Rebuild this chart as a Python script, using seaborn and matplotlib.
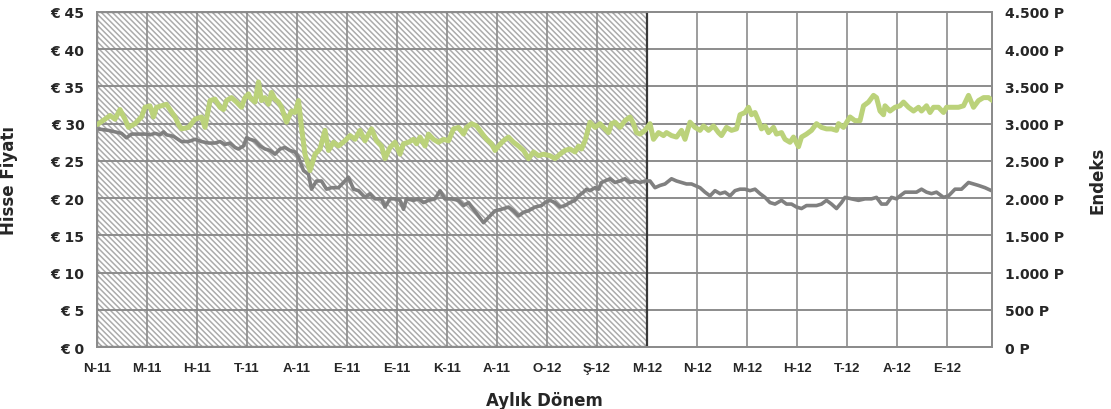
import numpy as np
import pandas as pd
import matplotlib
matplotlib.use("Agg")
import matplotlib.pyplot as plt
import seaborn as sns

# Month labels (one per tick)
months = ["N-11", "M-11", "H-11", "T-11", "A-11", "E-11", "E-11", "K-11", "A-11",
          "O-12", "Ş-12", "M-12", "N-12", "M-12", "H-12", "T-12", "A-12", "E-12"]

# Hatched (past) period ends at this month index
hatch_end = 11

# Stock price (EUR) -- position in months since N-11
price_t = [0.01, 0.23, 0.36, 0.49, 0.59, 0.69, 0.83, 0.96, 1.06, 1.16, 1.26, 1.33, 1.39, 1.53,
           1.69, 1.83, 1.96, 2.09, 2.23, 2.36, 2.46, 2.56, 2.66, 2.76, 2.83, 2.93, 2.99, 3.06,
           3.16, 3.26, 3.36, 3.46, 3.56, 3.66, 3.76, 3.86, 3.96, 4.03, 4.13, 4.23, 4.29, 4.39,
           4.49, 4.59, 4.69, 4.83, 4.96, 5.03, 5.13, 5.23, 5.36, 5.46, 5.56, 5.69, 5.76, 5.86,
           5.96, 6.06, 6.13, 6.19, 6.33, 6.43, 6.53, 6.63, 6.76, 6.86, 6.96, 7.09, 7.23, 7.33,
           7.43, 7.53, 7.63, 7.73, 7.83, 7.96, 8.09, 8.23, 8.33, 8.43, 8.53, 8.63, 8.76, 8.89,
           8.96, 9.06, 9.16, 9.26, 9.36, 9.46, 9.56, 9.63, 9.73, 9.79, 9.86, 9.96, 10.03, 10.09,
           10.16, 10.26, 10.36, 10.46, 10.56, 10.66, 10.76, 10.86, 10.96, 11.06, 11.16, 11.26,
           11.36, 11.49, 11.59, 11.69, 11.79, 11.89, 12.06, 12.16, 12.26, 12.36, 12.46, 12.56,
           12.66, 12.76, 12.86, 12.96, 13.06, 13.16, 13.26, 13.36, 13.46, 13.56, 13.69, 13.79,
           13.89, 13.99, 14.09, 14.19, 14.29, 14.39, 14.49, 14.59, 14.69, 14.79, 14.89, 14.96,
           15.09, 15.23, 15.36, 15.49, 15.59, 15.69, 15.79, 15.89, 15.99, 16.06, 16.16, 16.29,
           16.39, 16.49, 16.59, 16.69, 16.79, 16.93, 17.03, 17.16, 17.29, 17.43, 17.53, 17.63,
           17.76, 17.89]
price = [29.3, 29.1, 28.9, 28.7, 28.1, 28.6, 28.6, 28.6, 28.5, 28.7, 28.5, 28.9, 28.5, 28.3,
         27.6, 27.6, 27.9, 27.6, 27.4, 27.4, 27.6, 27.2, 27.4, 26.8, 26.6, 27.0, 28.1, 27.9,
         27.7, 27.0, 26.6, 26.4, 25.9, 26.6, 26.8, 26.4, 26.2, 25.5, 23.7, 23.2, 21.2, 22.3,
         22.3, 21.2, 21.4, 21.4, 22.3, 22.8, 21.2, 21.0, 20.1, 20.6, 19.9, 19.9, 18.8, 19.9,
         19.9, 19.7, 18.5, 19.9, 19.7, 19.9, 19.4, 19.7, 19.9, 21.0, 19.9, 19.9, 19.7, 19.0,
         19.4, 18.5, 17.6, 16.7, 17.4, 18.3, 18.5, 18.8, 18.3, 17.6, 18.1, 18.3, 18.8, 19.0,
         19.4, 19.7, 19.4, 18.8, 19.0, 19.4, 19.7, 20.3, 20.8, 21.2, 21.0, 21.4, 21.2, 22.1,
         22.3, 22.6, 22.1, 22.3, 22.6, 22.1, 22.3, 22.1, 22.3, 22.3, 21.4, 21.7,
         21.9, 22.6, 22.3, 22.1, 21.9, 21.9, 21.4, 20.8, 20.3, 21.0, 20.6, 20.8,
         20.3, 21.0, 21.2, 21.2, 21.0, 21.2, 20.6, 20.1, 19.4, 19.2, 19.7, 19.2,
         19.2, 18.8, 18.6, 19.0, 19.0, 19.0, 19.2, 19.7, 19.2, 18.6, 19.4, 20.1,
         19.9, 19.7, 19.9, 19.9, 20.1, 19.2, 19.2, 20.1, 19.9, 20.3, 20.8, 20.8,
         20.8, 21.2, 20.8, 20.6, 20.8, 20.1, 20.3, 21.2, 21.2, 22.1, 21.9, 21.7,
         21.4, 21.0]

# Index (points)
index_t = [0.01, 0.16, 0.26, 0.36, 0.46, 0.56, 0.63, 0.76, 0.89, 0.96, 1.06, 1.13, 1.19, 1.29,
           1.39, 1.46, 1.56, 1.63, 1.69, 1.83, 1.96, 2.09, 2.16, 2.26, 2.36, 2.46, 2.53, 2.59,
           2.69, 2.79, 2.89, 2.96, 3.03, 3.06, 3.16, 3.23, 3.29, 3.36, 3.43, 3.49, 3.56, 3.63,
           3.69, 3.79, 3.89, 3.96, 4.03, 4.09, 4.16, 4.26, 4.36, 4.46, 4.56, 4.63, 4.73, 4.83,
           4.96, 5.06, 5.16, 5.26, 5.36, 5.49, 5.59, 5.69, 5.76, 5.86, 5.96, 6.06, 6.13, 6.23,
           6.33, 6.39, 6.46, 6.56, 6.63, 6.73, 6.83, 6.93, 7.03, 7.13, 7.23, 7.33, 7.39, 7.49,
           7.59, 7.69, 7.79, 7.89, 7.96, 8.03, 8.13, 8.23, 8.33, 8.43, 8.53, 8.63, 8.73, 8.83,
           8.93, 9.06, 9.16, 9.26, 9.36, 9.46, 9.56, 9.63, 9.69, 9.76, 9.86, 9.96, 10.06, 10.13,
           10.23, 10.29, 10.36, 10.46, 10.56, 10.66, 10.73, 10.79, 10.86, 10.96, 11.06, 11.13,
           11.23, 11.33, 11.39, 11.49, 11.59, 11.69, 11.76, 11.86, 11.96, 12.06, 12.13, 12.23,
           12.33, 12.43, 12.49, 12.59, 12.69, 12.79, 12.86, 12.96, 13.03, 13.09, 13.16, 13.23,
           13.29, 13.36, 13.43, 13.53, 13.59, 13.69, 13.76, 13.86, 13.93, 14.03, 14.09, 14.19,
           14.29, 14.39, 14.49, 14.59, 14.69, 14.79, 14.83, 14.93, 15.06, 15.16, 15.26, 15.33,
           15.43, 15.53, 15.59, 15.66, 15.73, 15.76, 15.86, 15.96, 16.06, 16.13, 16.23, 16.33,
           16.43, 16.49, 16.59, 16.66, 16.73, 16.83, 16.93, 16.99, 17.09, 17.23, 17.33, 17.43,
           17.53, 17.63, 17.73, 17.83, 17.91]
index = [2990, 3060, 3110, 3060, 3190, 3060, 2950, 3000, 3090, 3220, 3240, 3090, 3220, 3240,
         3260, 3190, 3090, 2990, 2930, 2950, 3060, 3090, 2950, 3310, 3330, 3220, 3190, 3310,
         3350, 3290, 3220, 3350, 3400, 3350, 3290, 3560, 3310, 3350, 3260, 3420, 3330, 3290,
         3220, 3020, 3170, 3150, 3310, 2950, 2590, 2370, 2590, 2660, 2910, 2640, 2750, 2700,
         2770, 2840, 2790, 2910, 2770, 2930, 2770, 2700, 2530, 2680, 2750, 2590, 2730, 2750,
         2790, 2730, 2820, 2700, 2860, 2790, 2750, 2790, 2770, 2930, 2950, 2860, 2950, 3000,
         2970, 2880, 2790, 2730, 2640, 2700, 2770, 2820, 2750, 2700, 2640, 2530, 2620, 2570,
         2590, 2570, 2530, 2590, 2640, 2660, 2620, 2700, 2660, 2770, 3020, 2950, 3000, 2950,
         2880, 3000, 3020, 2950, 3040, 3090, 3000, 2880, 2860, 2910, 3000, 2790,
         2880, 2840, 2880, 2840, 2820, 2910, 2790, 3020, 2950, 2910, 2970, 2910,
         2970, 2880, 2840, 2950, 2910, 2930, 3120, 3150, 3220, 3120, 3150, 3040,
         2930, 2970, 2880, 2950, 2860, 2880, 2790, 2750, 2820, 2690, 2820, 2860,
         2910, 3000, 2950, 2930, 2930, 2910, 3000, 2950, 3090, 3040, 3040, 3240,
         3290, 3380, 3350, 3170, 3120, 3240, 3170, 3220, 3240, 3290, 3220, 3170,
         3220, 3170, 3240, 3150, 3220, 3220, 3150, 3220, 3220, 3220, 3240, 3380,
         3220, 3310, 3350, 3350, 3310]

sns.set_style("white")
plt.rcParams["font.family"] = ["DejaVu Sans"]
plt.rcParams["hatch.linewidth"] = 1.1

fig = plt.figure(figsize=(11.11, 4.10), dpi=100)
ax = fig.add_axes([0.0873, 0.1512, 0.8056, 0.8171])
ax2 = ax.twinx()

# hatched past period
ax.axvspan(0, hatch_end, facecolor="white", edgecolor="#ababab", hatch="\\" * 6,
           linewidth=0, zorder=0)

# grid
for v in range(0, 50, 5):
    ax.axhline(v, color="#8c8c8c", lw=1.4, zorder=1)
for m in range(len(months)):
    ax.axvline(m, color="#8c8c8c", lw=1.2, zorder=1)

ax.axvspan(0, hatch_end, facecolor="none", edgecolor="#3a3a3a", linewidth=1.6, zorder=2)

df_p = pd.DataFrame({"t": price_t, "v": price})
df_i = pd.DataFrame({"t": index_t, "v": index})
sns.lineplot(data=df_p, x="t", y="v", ax=ax, color="#808080", lw=2.6, sort=False, zorder=3)
sns.lineplot(data=df_i, x="t", y="v", ax=ax2, color="#bbd27a", lw=3.6, sort=False, zorder=3)

xmax = 17.9
ax.set_xlim(0, xmax)
ax.set_ylim(0, 45)
ax2.set_ylim(0, 4500)
ax.set_xticks(range(len(months)))
ax.set_xticklabels(months, fontfamily="Liberation Sans", fontweight="bold", fontsize=9.5)
ax.set_yticks(range(0, 50, 5))
ax.set_yticklabels([f"€ {v}" for v in range(0, 50, 5)], fontweight="bold", fontsize=10)
ax2.set_yticks(range(0, 5000, 500))
ax2.set_yticklabels([f"{v:,} P".replace(",", ".") for v in range(0, 5000, 500)],
                    fontweight="bold", fontsize=10)
ax.tick_params(axis="x", length=0, pad=11)
ax.tick_params(axis="y", length=0, pad=9)
ax2.tick_params(axis="y", length=0, pad=9)

for a in (ax, ax2):
    for s in a.spines.values():
        s.set_color("#8c8c8c")
        s.set_linewidth(1.4)
ax2.patch.set_visible(False)

ax.set_xlabel("Aylık Dönem", fontweight="bold", fontsize=12, labelpad=12)
ax.set_ylabel("Hisse Fiyatı", fontweight="bold", fontsize=12)
ax2.set_ylabel("Endeks", fontweight="bold", fontsize=12)
ax.yaxis.set_label_coords(-0.088, 0.5)
ax2.yaxis.set_label_coords(1.108, 0.5)
ax2.yaxis.label.set_rotation(90)

fig.savefig("out.png", dpi=100)
